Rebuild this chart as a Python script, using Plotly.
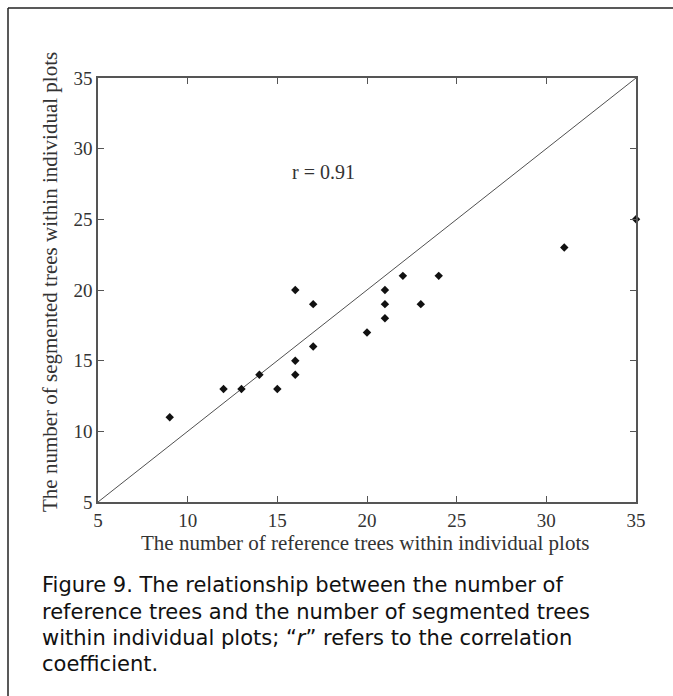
import plotly.graph_objects as go

# Data
reference_trees = [9, 12, 13, 14, 15, 16, 16, 16, 17, 17, 20, 21, 21, 21, 22, 23, 24, 31, 35]
segmented_trees = [11, 13, 13, 14, 13, 20, 15, 14, 19, 16, 17, 20, 19, 18, 21, 19, 21, 23, 25]
one_to_one = [5, 35]
tick_values = [5, 10, 15, 20, 25, 30, 35]
r_value = 0.91

caption_lines = [
    "Figure 9. The relationship between the number of",
    "reference trees and the number of segmented trees",
    "within individual plots; \u201c<i>r</i>\u201d refers to the correlation",
    "coefficient.",
]

W, H = 673, 696
L, R, T, B = 98, 636, 78, 502  # plot area in pixels


def px(x):
    return (x - L) / (R - L)


def py(y):
    return (B - y) / (B - T)


serif = "Liberation Serif, Times New Roman, serif"
sans = "DejaVu Sans, Arial, sans-serif"

fig = go.Figure()
fig.add_trace(go.Scatter(x=one_to_one, y=one_to_one, mode="lines",
                         line=dict(color="#505050", width=1), hoverinfo="skip",
                         showlegend=False))
fig.add_trace(go.Scatter(x=reference_trees, y=segmented_trees, mode="markers",
                         marker=dict(symbol="diamond", size=6.5, color="#111111"),
                         showlegend=False, cliponaxis=False))

axis_common = dict(range=[5, 35], tickvals=tick_values, ticks="inside", ticklen=6,
                   tickwidth=1, tickcolor="#555", showline=True, linecolor="#555",
                   linewidth=1.5, mirror="ticks", showgrid=False, zeroline=False,
                   tickfont=dict(family=serif, size=19, color="#333"))
fig.update_xaxes(**axis_common)
fig.update_yaxes(**axis_common)

annotations = [
    dict(x=17.55, y=28.35, xref="x", yref="y", text=f"r = {r_value:.2f}",
         showarrow=False, font=dict(family=serif, size=20, color="#333")),
    dict(x=px(365), y=py(543), xref="paper", yref="paper",
         text="The number of reference trees within individual plots",
         showarrow=False, xanchor="center", yanchor="middle",
         font=dict(family=serif, size=21, color="#333")),
    dict(x=px(50), y=py(282), xref="paper", yref="paper", textangle=-90,
         text="The number of segmented trees within individual plots",
         showarrow=False, xanchor="center", yanchor="middle",
         font=dict(family=serif, size=21, color="#333")),
]
for line, ypos in zip(caption_lines, [585, 612, 638, 664]):
    annotations.append(dict(x=px(40), y=py(ypos), xref="paper", yref="paper",
                            text=line, showarrow=False, xanchor="left",
                            yanchor="middle",
                            font=dict(family=sans, size=21, color="#111")))

shapes = [
    dict(type="line", xref="paper", yref="paper", x0=px(8), x1=px(8),
         y0=py(8), y1=py(700), line=dict(color="#222", width=1.5)),
    dict(type="line", xref="paper", yref="paper", x0=px(8), x1=px(680),
         y0=py(8), y1=py(8), line=dict(color="#222", width=1.5)),
]

fig.update_layout(width=W, height=H, margin=dict(l=L, r=W - R, t=T, b=H - B),
                  paper_bgcolor="white", plot_bgcolor="white",
                  annotations=annotations, shapes=shapes, showlegend=False)

fig.write_html("out.html", config={"displayModeBar": False},
               post_script="document.body.style.margin='0';"
                           "document.body.style.overflow='hidden';")
